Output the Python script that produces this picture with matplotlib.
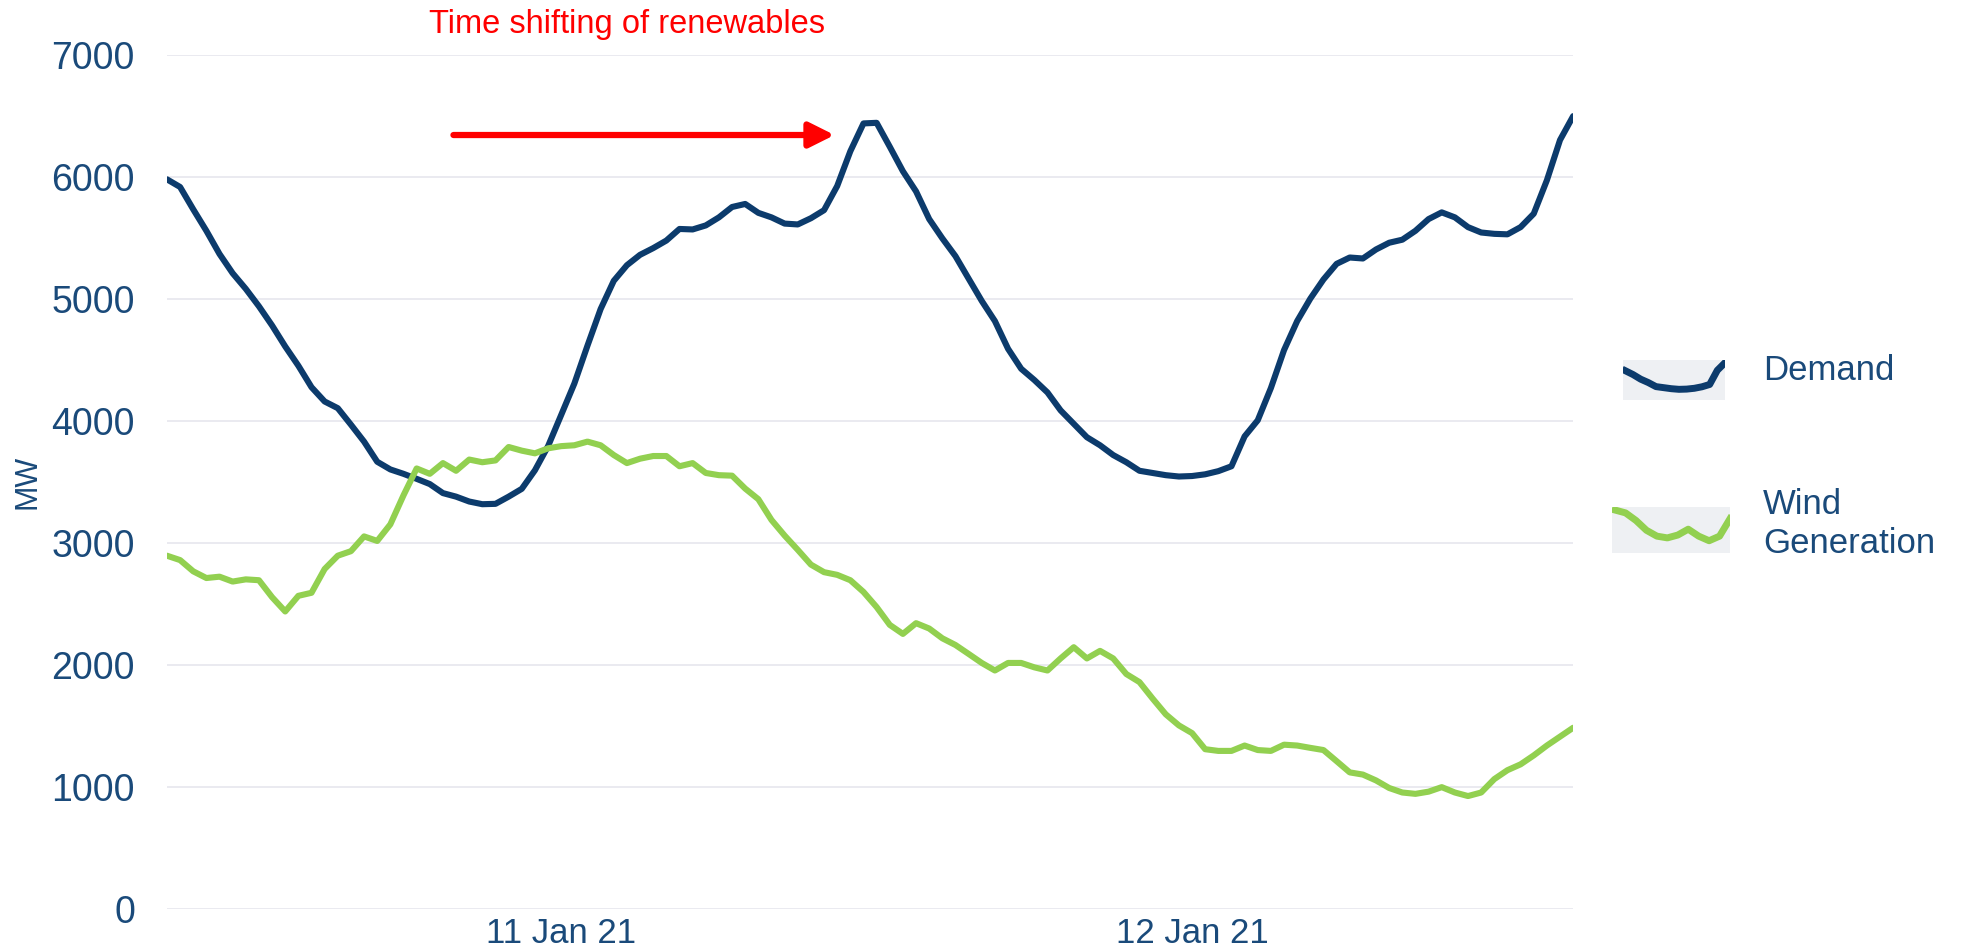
import numpy as np
import pandas as pd
import matplotlib
matplotlib.use('Agg')
import matplotlib.pyplot as plt
import matplotlib.dates as mdates

plt.rcParams['font.family'] = ['Liberation Sans', 'DejaVu Sans']

# half-hourly data, MW
start = '2021-01-10 09:00'
demand = [5982, 5919, 5736, 5560, 5370, 5212, 5084, 4941, 4784, 4612,
          4454, 4278, 4161, 4106, 3971, 3832, 3667, 3604, 3568, 3527,
          3484, 3410, 3381, 3341, 3319, 3322, 3381, 3445, 3597, 3795,
          4051, 4308, 4619, 4919, 5150, 5278, 5363, 5418, 5480, 5575,
          5571, 5604, 5670, 5755, 5780, 5707, 5670, 5619, 5612, 5663,
          5729, 5927, 6212, 6440, 6445, 6249, 6048, 5883, 5656, 5498,
          5352, 5168, 4985, 4820, 4593, 4429, 4337, 4235, 4088, 3978,
          3868, 3802, 3722, 3663, 3593, 3575, 3557, 3546, 3550, 3564,
          3590, 3630, 3875, 4007, 4271, 4582, 4820, 5004, 5161, 5289,
          5341, 5333, 5407, 5462, 5487, 5560, 5656, 5711, 5670, 5590,
          5546, 5535, 5531, 5590, 5700, 5974, 6304, 6500]
wind = [2897, 2861, 2769, 2714, 2725, 2685, 2703, 2696, 2557, 2440,
        2568, 2593, 2788, 2897, 2934, 3055, 3018, 3154, 3392, 3612,
        3568, 3656, 3593, 3685, 3663, 3678, 3788, 3758, 3736, 3777,
        3795, 3802, 3832, 3802, 3722, 3656, 3692, 3714, 3714, 3630,
        3656, 3575, 3557, 3553, 3447, 3360, 3190, 3062, 2945, 2824,
        2762, 2740, 2696, 2600, 2476, 2330, 2256, 2344, 2300, 2220,
        2165, 2092, 2018, 1956, 2018, 2018, 1982, 1956, 2055, 2147,
        2055, 2117, 2055, 1927, 1861, 1726, 1597, 1506, 1443, 1311,
        1297, 1297, 1341, 1304, 1297, 1348, 1341, 1322, 1304, 1213,
        1121, 1103, 1055, 993, 956, 945, 963, 1000, 956, 927,
        956, 1066, 1139, 1187, 1260, 1341, 1414, 1487]
yticks = [0, 1000, 2000, 3000, 4000, 5000, 6000, 7000]

times = pd.date_range(start, periods=len(demand), freq='30min')

navy = '#0C3B6C'
green = '#92D050'
txt = '#1A4A7A'

fig = plt.figure(figsize=(19.64, 9.50), dpi=100)
ax = fig.add_axes([0.085, 0.043, 0.716, 0.899])

ax.plot(times, demand, color=navy, lw=4.4, solid_capstyle='round',
        solid_joinstyle='round', zorder=3)
ax.plot(times, wind, color=green, lw=4.4, solid_capstyle='round',
        solid_joinstyle='round', zorder=3)

ax.set_ylim(0, 7000)
ax.set_xlim(times[0], times[-1])
ax.set_yticks(yticks)
ax.grid(axis='y', color='#EAEAF0', lw=1.4)
ax.set_axisbelow(True)
for s in ax.spines.values():
    s.set_visible(False)
ax.tick_params(axis='both', length=0, colors=txt)
ax.tick_params(axis='y', labelsize=27, pad=23)
ax.tick_params(axis='x', labelsize=25, pad=6)
ax.xaxis.set_major_locator(mdates.DayLocator())
ax.xaxis.set_major_formatter(mdates.DateFormatter('%d %b %y'))

fig.text(28 / 1964, 1 - 482 / 950, 'MW', rotation=90, fontsize=22,
         color=txt, ha='center', va='center')

# annotation
fig.text(627 / 1964, 1 - 24 / 950, 'Time shifting of renewables', color='red',
         fontsize=23.5, ha='center', va='center')
t0 = pd.Timestamp(start)
ax.annotate('', xy=(t0 + pd.Timedelta(hours=25.4), 6345),
            xytext=(t0 + pd.Timedelta(hours=10.9), 6345),
            arrowprops=dict(arrowstyle='-|>', color='red', lw=4.5,
                            mutation_scale=38, shrinkA=0, shrinkB=0))

# legend swatches drawn from pieces of the series
def swatch(rect, vals, color):
    a = fig.add_axes(rect)
    a.set_facecolor('#EEF0F3')
    a.plot(range(len(vals)), vals, color=color, lw=5)
    lo, hi = min(vals), max(vals)
    sp = hi - lo
    a.set_ylim(lo - 0.4 * sp, hi + 0.1 * sp)
    a.set_xlim(-0.3, len(vals) - 1)
    a.set_xticks([])
    a.set_yticks([])
    for s in a.spines.values():
        s.set_visible(False)

swatch([1623 / 1964, 1 - 400 / 950, 102 / 1964, 40 / 950], demand[70:84], navy)
swatch([1612 / 1964, 1 - 553 / 950, 118 / 1964, 46 / 950], wind[90:102], green)

fig.text(1763 / 1964, 1 - 370 / 950, 'Demand', fontsize=25, color=txt,
         va='center', ha='left')
fig.text(1763 / 1964, 1 - 524 / 950, 'Wind\nGeneration', fontsize=25,
         color=txt, va='center', ha='left', linespacing=1.2)

fig.savefig('out.png', dpi=100, facecolor='white')
